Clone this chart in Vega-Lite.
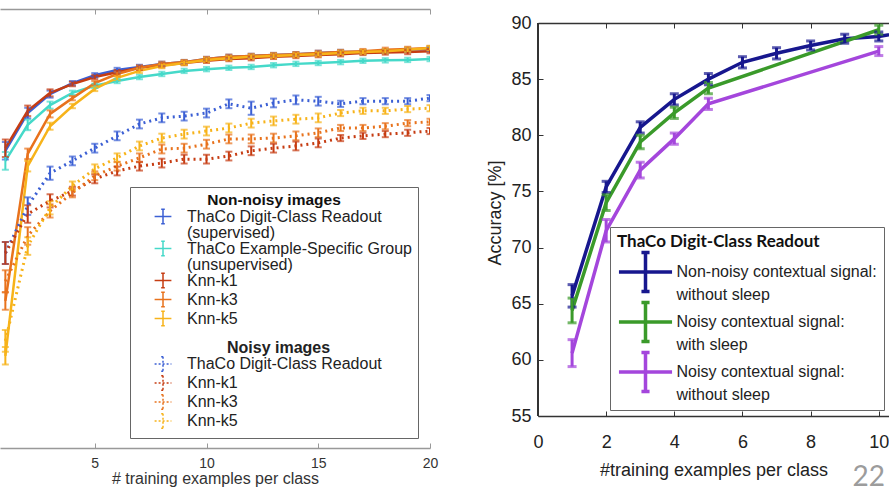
{
  "$schema": "https://vega.github.io/schema/vega-lite/v6.json",
  "padding": {"left": 0, "top": 8, "right": 0, "bottom": 0},
  "background": "white",
  "config": {"view": {"stroke": null}, "font": "Liberation Sans"},
  "title": {"text": "22", "orient": "bottom", "anchor": "end", "offset": -22, "dx": -4, "fontSize": 28, "font": "Lato", "fontWeight": "normal", "color": "#9c9c9c"},
  "spacing": 108,
  "bounds": "flush",
  "resolve": {"scale": {"color": "independent"}, "legend": {"color": "independent"}},
  "datasets": {
    "left": [
      {"s":"ThaCo Digit-Class Readout|(supervised)","x":1,"v":67.7,"e":2},
      {"s":"ThaCo Digit-Class Readout|(supervised)","x":2,"v":76.3,"e":1.2},
      {"s":"ThaCo Digit-Class Readout|(supervised)","x":3,"v":80.6,"e":0.8},
      {"s":"ThaCo Digit-Class Readout|(supervised)","x":4,"v":83.1,"e":0.5},
      {"s":"ThaCo Digit-Class Readout|(supervised)","x":5,"v":84.9,"e":0.5},
      {"s":"ThaCo Digit-Class Readout|(supervised)","x":6,"v":86.1,"e":0.5},
      {"s":"ThaCo Digit-Class Readout|(supervised)","x":7,"v":86.8,"e":0.5},
      {"s":"ThaCo Digit-Class Readout|(supervised)","x":8,"v":87.5,"e":0.5},
      {"s":"ThaCo Digit-Class Readout|(supervised)","x":9,"v":87.9,"e":0.5},
      {"s":"ThaCo Digit-Class Readout|(supervised)","x":10,"v":88.6,"e":0.5},
      {"s":"ThaCo Digit-Class Readout|(supervised)","x":11,"v":89.1,"e":0.5},
      {"s":"ThaCo Digit-Class Readout|(supervised)","x":12,"v":89.3,"e":0.5},
      {"s":"ThaCo Digit-Class Readout|(supervised)","x":13,"v":89.5,"e":0.5},
      {"s":"ThaCo Digit-Class Readout|(supervised)","x":14,"v":89.7,"e":0.5},
      {"s":"ThaCo Digit-Class Readout|(supervised)","x":15,"v":90.0,"e":0.5},
      {"s":"ThaCo Digit-Class Readout|(supervised)","x":16,"v":90.2,"e":0.5},
      {"s":"ThaCo Digit-Class Readout|(supervised)","x":17,"v":90.2,"e":0.5},
      {"s":"ThaCo Digit-Class Readout|(supervised)","x":18,"v":90.4,"e":0.5},
      {"s":"ThaCo Digit-Class Readout|(supervised)","x":19,"v":90.7,"e":0.5},
      {"s":"ThaCo Digit-Class Readout|(supervised)","x":20,"v":90.9,"e":0.5},
      {"s":"ThaCo Example-Specific Group|(unsupervised)","x":1,"v":65.4,"e":2},
      {"s":"ThaCo Example-Specific Group|(unsupervised)","x":2,"v":73.6,"e":1.2},
      {"s":"ThaCo Example-Specific Group|(unsupervised)","x":3,"v":78.1,"e":0.8},
      {"s":"ThaCo Example-Specific Group|(unsupervised)","x":4,"v":80.9,"e":0.5},
      {"s":"ThaCo Example-Specific Group|(unsupervised)","x":5,"v":82.5,"e":0.5},
      {"s":"ThaCo Example-Specific Group|(unsupervised)","x":6,"v":83.6,"e":0.5},
      {"s":"ThaCo Example-Specific Group|(unsupervised)","x":7,"v":84.5,"e":0.5},
      {"s":"ThaCo Example-Specific Group|(unsupervised)","x":8,"v":85.2,"e":0.5},
      {"s":"ThaCo Example-Specific Group|(unsupervised)","x":9,"v":85.9,"e":0.5},
      {"s":"ThaCo Example-Specific Group|(unsupervised)","x":10,"v":86.3,"e":0.5},
      {"s":"ThaCo Example-Specific Group|(unsupervised)","x":11,"v":86.6,"e":0.5},
      {"s":"ThaCo Example-Specific Group|(unsupervised)","x":12,"v":86.8,"e":0.5},
      {"s":"ThaCo Example-Specific Group|(unsupervised)","x":13,"v":87.2,"e":0.5},
      {"s":"ThaCo Example-Specific Group|(unsupervised)","x":14,"v":87.5,"e":0.5},
      {"s":"ThaCo Example-Specific Group|(unsupervised)","x":15,"v":87.7,"e":0.5},
      {"s":"ThaCo Example-Specific Group|(unsupervised)","x":16,"v":87.9,"e":0.5},
      {"s":"ThaCo Example-Specific Group|(unsupervised)","x":17,"v":88.2,"e":0.5},
      {"s":"ThaCo Example-Specific Group|(unsupervised)","x":18,"v":88.3,"e":0.5},
      {"s":"ThaCo Example-Specific Group|(unsupervised)","x":19,"v":88.4,"e":0.5},
      {"s":"ThaCo Example-Specific Group|(unsupervised)","x":20,"v":88.6,"e":0.5},
      {"s":"Knn-k1","x":1,"v":68.3,"e":2},
      {"s":"Knn-k1","x":2,"v":76.8,"e":1.2},
      {"s":"Knn-k1","x":3,"v":80.9,"e":0.8},
      {"s":"Knn-k1","x":4,"v":82.9,"e":0.5},
      {"s":"Knn-k1","x":5,"v":84.5,"e":0.5},
      {"s":"Knn-k1","x":6,"v":85.6,"e":0.5},
      {"s":"Knn-k1","x":7,"v":86.6,"e":0.5},
      {"s":"Knn-k1","x":8,"v":87.2,"e":0.5},
      {"s":"Knn-k1","x":9,"v":87.7,"e":0.5},
      {"s":"Knn-k1","x":10,"v":88.2,"e":0.5},
      {"s":"Knn-k1","x":11,"v":88.6,"e":0.5},
      {"s":"Knn-k1","x":12,"v":88.8,"e":0.5},
      {"s":"Knn-k1","x":13,"v":89.1,"e":0.5},
      {"s":"Knn-k1","x":14,"v":89.3,"e":0.5},
      {"s":"Knn-k1","x":15,"v":89.5,"e":0.5},
      {"s":"Knn-k1","x":16,"v":89.7,"e":0.5},
      {"s":"Knn-k1","x":17,"v":90.0,"e":0.5},
      {"s":"Knn-k1","x":18,"v":90.1,"e":0.5},
      {"s":"Knn-k1","x":19,"v":90.2,"e":0.5},
      {"s":"Knn-k1","x":20,"v":90.4,"e":0.5},
      {"s":"Knn-k3","x":1,"v":33.5,"e":2},
      {"s":"Knn-k3","x":2,"v":67.0,"e":1.2},
      {"s":"Knn-k3","x":3,"v":76.1,"e":0.8},
      {"s":"Knn-k3","x":4,"v":79.7,"e":0.5},
      {"s":"Knn-k3","x":5,"v":83.1,"e":0.5},
      {"s":"Knn-k3","x":6,"v":85.2,"e":0.5},
      {"s":"Knn-k3","x":7,"v":86.6,"e":0.5},
      {"s":"Knn-k3","x":8,"v":87.5,"e":0.5},
      {"s":"Knn-k3","x":9,"v":87.9,"e":0.5},
      {"s":"Knn-k3","x":10,"v":88.6,"e":0.5},
      {"s":"Knn-k3","x":11,"v":89.1,"e":0.5},
      {"s":"Knn-k3","x":12,"v":89.3,"e":0.5},
      {"s":"Knn-k3","x":13,"v":89.5,"e":0.5},
      {"s":"Knn-k3","x":14,"v":89.7,"e":0.5},
      {"s":"Knn-k3","x":15,"v":90.0,"e":0.5},
      {"s":"Knn-k3","x":16,"v":90.2,"e":0.5},
      {"s":"Knn-k3","x":17,"v":90.4,"e":0.5},
      {"s":"Knn-k3","x":18,"v":90.7,"e":0.5},
      {"s":"Knn-k3","x":19,"v":90.9,"e":0.5},
      {"s":"Knn-k3","x":20,"v":91.1,"e":0.5},
      {"s":"Knn-k5","x":1,"v":21.0,"e":2},
      {"s":"Knn-k5","x":2,"v":64.2,"e":1.2},
      {"s":"Knn-k5","x":3,"v":73.3,"e":0.8},
      {"s":"Knn-k5","x":4,"v":77.9,"e":0.5},
      {"s":"Knn-k5","x":5,"v":81.8,"e":0.5},
      {"s":"Knn-k5","x":6,"v":84.3,"e":0.5},
      {"s":"Knn-k5","x":7,"v":85.9,"e":0.5},
      {"s":"Knn-k5","x":8,"v":87.0,"e":0.5},
      {"s":"Knn-k5","x":9,"v":87.7,"e":0.5},
      {"s":"Knn-k5","x":10,"v":88.4,"e":0.5},
      {"s":"Knn-k5","x":11,"v":88.8,"e":0.5},
      {"s":"Knn-k5","x":12,"v":89.1,"e":0.5},
      {"s":"Knn-k5","x":13,"v":89.3,"e":0.5},
      {"s":"Knn-k5","x":14,"v":89.5,"e":0.5},
      {"s":"Knn-k5","x":15,"v":89.7,"e":0.5},
      {"s":"Knn-k5","x":16,"v":90.0,"e":0.5},
      {"s":"Knn-k5","x":17,"v":90.2,"e":0.5},
      {"s":"Knn-k5","x":18,"v":90.4,"e":0.5},
      {"s":"Knn-k5","x":19,"v":90.7,"e":0.5},
      {"s":"Knn-k5","x":20,"v":91.1,"e":0.5},
      {"s":"Noisy: ThaCo Digit-Class Readout","x":1,"v":44.4,"e":2.5},
      {"s":"Noisy: ThaCo Digit-Class Readout","x":2,"v":55.1,"e":2},
      {"s":"Noisy: ThaCo Digit-Class Readout","x":3,"v":62.6,"e":1.5},
      {"s":"Noisy: ThaCo Digit-Class Readout","x":4,"v":65.4,"e":1},
      {"s":"Noisy: ThaCo Digit-Class Readout","x":5,"v":68.3,"e":1},
      {"s":"Noisy: ThaCo Digit-Class Readout","x":6,"v":71.1,"e":1},
      {"s":"Noisy: ThaCo Digit-Class Readout","x":7,"v":73.8,"e":1},
      {"s":"Noisy: ThaCo Digit-Class Readout","x":8,"v":75.2,"e":1},
      {"s":"Noisy: ThaCo Digit-Class Readout","x":9,"v":75.6,"e":1},
      {"s":"Noisy: ThaCo Digit-Class Readout","x":10,"v":76.3,"e":1},
      {"s":"Noisy: ThaCo Digit-Class Readout","x":11,"v":78.4,"e":1},
      {"s":"Noisy: ThaCo Digit-Class Readout","x":12,"v":77.4,"e":1.5},
      {"s":"Noisy: ThaCo Digit-Class Readout","x":13,"v":78.6,"e":1},
      {"s":"Noisy: ThaCo Digit-Class Readout","x":14,"v":79.3,"e":1},
      {"s":"Noisy: ThaCo Digit-Class Readout","x":15,"v":79.0,"e":1},
      {"s":"Noisy: ThaCo Digit-Class Readout","x":16,"v":78.4,"e":0.7},
      {"s":"Noisy: ThaCo Digit-Class Readout","x":17,"v":79.0,"e":0.7},
      {"s":"Noisy: ThaCo Digit-Class Readout","x":18,"v":79.0,"e":0.7},
      {"s":"Noisy: ThaCo Digit-Class Readout","x":19,"v":79.0,"e":0.7},
      {"s":"Noisy: ThaCo Digit-Class Readout","x":20,"v":79.7,"e":0.7},
      {"s":"Noisy: Knn-k1","x":1,"v":44.4,"e":2.5},
      {"s":"Noisy: Knn-k1","x":2,"v":53.3,"e":2},
      {"s":"Noisy: Knn-k1","x":3,"v":56.3,"e":1.5},
      {"s":"Noisy: Knn-k1","x":4,"v":58.5,"e":1},
      {"s":"Noisy: Knn-k1","x":5,"v":61.3,"e":1},
      {"s":"Noisy: Knn-k1","x":6,"v":63.1,"e":1},
      {"s":"Noisy: Knn-k1","x":7,"v":64.2,"e":1},
      {"s":"Noisy: Knn-k1","x":8,"v":64.9,"e":1},
      {"s":"Noisy: Knn-k1","x":9,"v":65.8,"e":1},
      {"s":"Noisy: Knn-k1","x":10,"v":65.8,"e":1},
      {"s":"Noisy: Knn-k1","x":11,"v":66.5,"e":1},
      {"s":"Noisy: Knn-k1","x":12,"v":67.7,"e":1},
      {"s":"Noisy: Knn-k1","x":13,"v":68.3,"e":1},
      {"s":"Noisy: Knn-k1","x":14,"v":68.8,"e":1},
      {"s":"Noisy: Knn-k1","x":15,"v":69.5,"e":1},
      {"s":"Noisy: Knn-k1","x":16,"v":70.6,"e":0.7},
      {"s":"Noisy: Knn-k1","x":17,"v":71.1,"e":0.7},
      {"s":"Noisy: Knn-k1","x":18,"v":71.5,"e":0.7},
      {"s":"Noisy: Knn-k1","x":19,"v":71.8,"e":0.7},
      {"s":"Noisy: Knn-k1","x":20,"v":72.2,"e":0.7},
      {"s":"Noisy: Knn-k3","x":1,"v":38.0,"e":2.5},
      {"s":"Noisy: Knn-k3","x":2,"v":48.3,"e":2},
      {"s":"Noisy: Knn-k3","x":3,"v":54.0,"e":1.5},
      {"s":"Noisy: Knn-k3","x":4,"v":58.1,"e":1},
      {"s":"Noisy: Knn-k3","x":5,"v":62.0,"e":1},
      {"s":"Noisy: Knn-k3","x":6,"v":64.2,"e":1},
      {"s":"Noisy: Knn-k3","x":7,"v":66.1,"e":1},
      {"s":"Noisy: Knn-k3","x":8,"v":68.1,"e":1},
      {"s":"Noisy: Knn-k3","x":9,"v":68.3,"e":1},
      {"s":"Noisy: Knn-k3","x":10,"v":69.2,"e":1},
      {"s":"Noisy: Knn-k3","x":11,"v":70.4,"e":1},
      {"s":"Noisy: Knn-k3","x":12,"v":70.4,"e":1},
      {"s":"Noisy: Knn-k3","x":13,"v":70.6,"e":1},
      {"s":"Noisy: Knn-k3","x":14,"v":71.1,"e":1},
      {"s":"Noisy: Knn-k3","x":15,"v":71.8,"e":1},
      {"s":"Noisy: Knn-k3","x":16,"v":72.9,"e":0.7},
      {"s":"Noisy: Knn-k3","x":17,"v":72.9,"e":0.7},
      {"s":"Noisy: Knn-k3","x":18,"v":73.3,"e":0.7},
      {"s":"Noisy: Knn-k3","x":19,"v":74.0,"e":0.7},
      {"s":"Noisy: Knn-k3","x":20,"v":74.3,"e":0.7},
      {"s":"Noisy: Knn-k5","x":1,"v":24.4,"e":2.5},
      {"s":"Noisy: Knn-k5","x":2,"v":46.0,"e":2},
      {"s":"Noisy: Knn-k5","x":3,"v":54.7,"e":1.5},
      {"s":"Noisy: Knn-k5","x":4,"v":59.7,"e":1},
      {"s":"Noisy: Knn-k5","x":5,"v":63.6,"e":1},
      {"s":"Noisy: Knn-k5","x":6,"v":66.1,"e":1},
      {"s":"Noisy: Knn-k5","x":7,"v":68.8,"e":1},
      {"s":"Noisy: Knn-k5","x":8,"v":70.6,"e":1},
      {"s":"Noisy: Knn-k5","x":9,"v":71.5,"e":1},
      {"s":"Noisy: Knn-k5","x":10,"v":72.2,"e":1},
      {"s":"Noisy: Knn-k5","x":11,"v":72.9,"e":1},
      {"s":"Noisy: Knn-k5","x":12,"v":74.0,"e":1},
      {"s":"Noisy: Knn-k5","x":13,"v":74.5,"e":1},
      {"s":"Noisy: Knn-k5","x":14,"v":74.9,"e":1},
      {"s":"Noisy: Knn-k5","x":15,"v":75.2,"e":1},
      {"s":"Noisy: Knn-k5","x":16,"v":76.3,"e":0.7},
      {"s":"Noisy: Knn-k5","x":17,"v":76.8,"e":0.7},
      {"s":"Noisy: Knn-k5","x":18,"v":76.8,"e":0.7},
      {"s":"Noisy: Knn-k5","x":19,"v":77.2,"e":0.7},
      {"s":"Noisy: Knn-k5","x":20,"v":77.4,"e":0.7}
    ],
    "right": [
      {"s":"Non-noisy contextual signal:|without sleep","x":1,"v":65.7,"e":1.0},
      {"s":"Non-noisy contextual signal:|without sleep","x":2,"v":75.4,"e":0.5},
      {"s":"Non-noisy contextual signal:|without sleep","x":3,"v":80.7,"e":0.5},
      {"s":"Non-noisy contextual signal:|without sleep","x":4,"v":83.2,"e":0.5},
      {"s":"Non-noisy contextual signal:|without sleep","x":5,"v":85.0,"e":0.5},
      {"s":"Non-noisy contextual signal:|without sleep","x":6,"v":86.5,"e":0.5},
      {"s":"Non-noisy contextual signal:|without sleep","x":7,"v":87.3,"e":0.5},
      {"s":"Non-noisy contextual signal:|without sleep","x":8,"v":88.0,"e":0.4},
      {"s":"Non-noisy contextual signal:|without sleep","x":9,"v":88.6,"e":0.4},
      {"s":"Non-noisy contextual signal:|without sleep","x":10,"v":88.8,"e":0.4},
      {"s":"Non-noisy contextual signal:|without sleep","x":11,"v":89.3,"e":0.4},
      {"s":"Noisy contextual signal:|with sleep","x":1,"v":64.4,"e":1.1},
      {"s":"Noisy contextual signal:|with sleep","x":2,"v":74.0,"e":0.7},
      {"s":"Noisy contextual signal:|with sleep","x":3,"v":79.4,"e":0.6},
      {"s":"Noisy contextual signal:|with sleep","x":4,"v":82.0,"e":0.5},
      {"s":"Noisy contextual signal:|with sleep","x":5,"v":84.2,"e":0.5},
      {"s":"Noisy contextual signal:|with sleep","x":10,"v":89.4,"e":0.4},
      {"s":"Noisy contextual signal:|without sleep","x":1,"v":60.6,"e":1.2},
      {"s":"Noisy contextual signal:|without sleep","x":2,"v":71.5,"e":1.0},
      {"s":"Noisy contextual signal:|without sleep","x":3,"v":76.9,"e":0.7},
      {"s":"Noisy contextual signal:|without sleep","x":4,"v":79.7,"e":0.5},
      {"s":"Noisy contextual signal:|without sleep","x":5,"v":82.8,"e":0.5},
      {"s":"Noisy contextual signal:|without sleep","x":10,"v":87.5,"e":0.4}
    ]
  },
  "hconcat": [
    {
      "width": 430,
      "height": 439,
      "data": {"name": "left"},
      "resolve": {"axis": {"x": "independent"}},
      "layer": [
        {
          "transform": [{"filter": "indexof(datum.s, 'Noisy: ') < 0"}],
          "mark": {"type": "line", "strokeWidth": 2.5, "clip": true},
          "encoding": {
            "x": {"field": "x", "type": "quantitative",
              "scale": {"domain": [0.76, 20], "nice": false, "zero": false},
              "axis": {"orient": "bottom", "values": [5, 10, 15, 20], "title": "# training examples per class",
                "grid": false, "tickSize": -5, "tickColor": "#999", "domainColor": "#999", "domainWidth": 1.5,
                "labelFontSize": 14, "labelColor": "#333", "labelPadding": 13, "labelFlush": false,
                "titleFontSize": 16, "titleFontWeight": "normal", "titleColor": "#333", "titlePadding": 0}},
            "y": {"field": "v", "type": "quantitative",
              "scale": {"domain": [0, 100], "nice": false, "zero": false},
              "axis": {"orient": "right", "values": [0,10,20,30,40,50,60,70,80,90,100], "labels": false, "title": null,
                "grid": false, "tickSize": -5, "tickColor": "#999", "domainColor": "#999", "domainWidth": 1.5}},
            "color": {"field": "s", "type": "nominal",
              "scale": {
                "domain": ["ThaCo Digit-Class Readout|(supervised)", "ThaCo Example-Specific Group|(unsupervised)", "Knn-k1", "Knn-k3", "Knn-k5", "Noisy images", "Noisy: ThaCo Digit-Class Readout", "Noisy: Knn-k1", "Noisy: Knn-k3", "Noisy: Knn-k5"],
                "range": ["#3b5fd4", "#45d9c9", "#c63c12", "#e8721c", "#f7b31a", "rgba(0,0,0,0)", "#3b5fd4", "#c63c12", "#e8721c", "#f7b31a"]},
              "legend": {
                "orient": "none", "legendX": 130, "legendY": 178,
                "title": "Non-noisy images", "titleFontSize": 15.5, "titleFontWeight": "bold", "titleColor": "#111",
                "titleAnchor": "middle", "titlePadding": 0,
                "strokeColor": "#666", "fillColor": "white", "padding": 6,
                "symbolType": "M-1.4,0H1.4M0,-1.2V1.2M-0.3,-1.2H0.3M-0.3,1.2H0.3",
                "symbolSize": 144, "symbolStrokeWidth": 1.5, "symbolOffset": 19,
                "labelFont": "Liberation Sans", "labelFontSize": 16, "labelColor": "#222", "labelLimit": 340, "labelOffset": 16,
                "rowPadding": -5.5,
                "labelExpr": "datum.label == 'Noisy images' ? ['', 'Noisy images'] : split(replace(datum.label, 'Noisy: ', ''), '|')",
                "encode": {
                  "labels": {"update": {
                    "lineHeight": {"value": 16},
                    "fontWeight": {"signal": "datum.value == 'Noisy images' ? 'bold' : 'normal'"},
                    "dx": {"signal": "datum.value == 'Noisy images' ? 40 : 0"},
                    "dy": {"signal": "datum.value == 'Noisy images' ? -6 : 0"}
                  }},
                  "symbols": {"update": {
                    "strokeDash": {"signal": "indexof(datum.value, 'Noisy: ') == 0 ? [2,2] : [1,0]"}
                  }}
                }
              }
            }
          }
        },
        {
          "transform": [{"filter": "indexof(datum.s, 'Noisy: ') == 0"}],
          "mark": {"type": "line", "strokeWidth": 3, "strokeDash": [2, 4], "clip": true},
          "encoding": {
            "x": {"field": "x", "type": "quantitative", "axis": null},
            "y": {"field": "v", "type": "quantitative", "axis": null},
            "color": {"field": "s", "type": "nominal"}
          }
        },
        {
          "mark": {"type": "errorbar", "ticks": true, "size": 7, "thickness": 2, "clip": true},
          "encoding": {
            "x": {"field": "x", "type": "quantitative",
              "axis": {"orient": "top", "values": [5, 10, 15, 20], "labels": false, "title": null, "grid": false,
                "tickSize": -5, "tickColor": "#999", "domainColor": "#999", "domainWidth": 1.5}},
            "y": {"field": "v", "type": "quantitative", "axis": null},
            "yError": {"field": "e"},
            "color": {"field": "s", "type": "nominal"}
          }
        }
      ]
    },
    {
      "width": 351,
      "height": 407,
      "data": {"name": "right"},
      "resolve": {"axis": {"x": "independent"}},
      "encoding": {
        "y": {"field": "v", "type": "quantitative",
          "scale": {"domain": [55, 91.247], "nice": false, "zero": false},
          "axis": {"orient": "left", "values": [55, 60, 65, 70, 75, 80, 85, 90], "title": "Accuracy [%]",
            "grid": false, "domain": false, "tickSize": -5, "tickColor": "#333",
            "labelFontSize": 18, "labelColor": "#222", "labelPadding": 12,
            "titleFontSize": 18, "titleFontWeight": "normal", "titleColor": "#222", "titlePadding": 6}}
      },
      "layer": [
        {
          "mark": {"type": "line", "strokeWidth": 3.5, "clip": true},
          "encoding": {
            "x": {"field": "x", "type": "quantitative",
              "scale": {"domain": [0, 10.3], "nice": false, "zero": false},
              "axis": {"orient": "bottom", "values": [0, 2, 4, 6, 8, 10], "title": "#training examples per class",
                "grid": false, "tickSize": -5, "tickColor": "#333", "domainColor": "#333", "domainWidth": 1.5,
                "labelFontSize": 18, "labelColor": "#222", "labelPadding": 22, "labelFlush": false,
                "titleFontSize": 18, "titleFontWeight": "normal", "titleColor": "#222", "titlePadding": 10}},
            "color": {"field": "s", "type": "nominal",
              "scale": {
                "domain": ["Non-noisy contextual signal:|without sleep", "Noisy contextual signal:|with sleep", "Noisy contextual signal:|without sleep"],
                "range": ["#17178e", "#3a9a2a", "#a446dc"]},
              "legend": {
                "orient": "none", "legendX": 72, "legendY": 218,
                "title": "ThaCo Digit-Class Readout", "titleFont": "Lato", "titleFontSize": 17, "titleFontWeight": "bold",
                "titleColor": "#111", "titlePadding": 4, "titleLimit": 400,
                "strokeColor": "#666", "fillColor": "white", "padding": 7,
                "symbolType": "M-1.77,0H1.77M0,-1.3V1.3M-0.27,-1.3H0.27M-0.27,1.3H0.27",
                "symbolSize": 900, "symbolStrokeWidth": 3.5, "symbolOffset": 11.5,
                "labelFont": "Liberation Sans", "labelFontSize": 16, "labelColor": "#222", "labelLimit": 320, "labelOffset": 14,
                "rowPadding": -8,
                "labelExpr": "split(datum.label, '|')",
                "encode": {"labels": {"update": {"lineHeight": {"value": 23}}}}
              }
            }
          }
        },
        {
          "mark": {"type": "rule", "color": "#333", "strokeWidth": 1.5},
          "encoding": {
            "x": {"datum": 0, "type": "quantitative", "axis": null},
            "y": {"datum": 55, "type": "quantitative"},
            "y2": {"datum": 90}
          }
        },
        {
          "mark": {"type": "errorbar", "ticks": true, "size": 9, "thickness": 3, "clip": true},
          "encoding": {
            "x": {"field": "x", "type": "quantitative",
              "axis": {"orient": "top", "values": [0, 2, 4, 6, 8, 10], "labels": false, "title": null, "grid": false,
                "offset": -14, "tickSize": -5, "tickColor": "#333", "domainColor": "#333", "domainWidth": 1.5}},
            "yError": {"field": "e"},
            "color": {"field": "s", "type": "nominal"}
          }
        }
      ]
    }
  ]
}
